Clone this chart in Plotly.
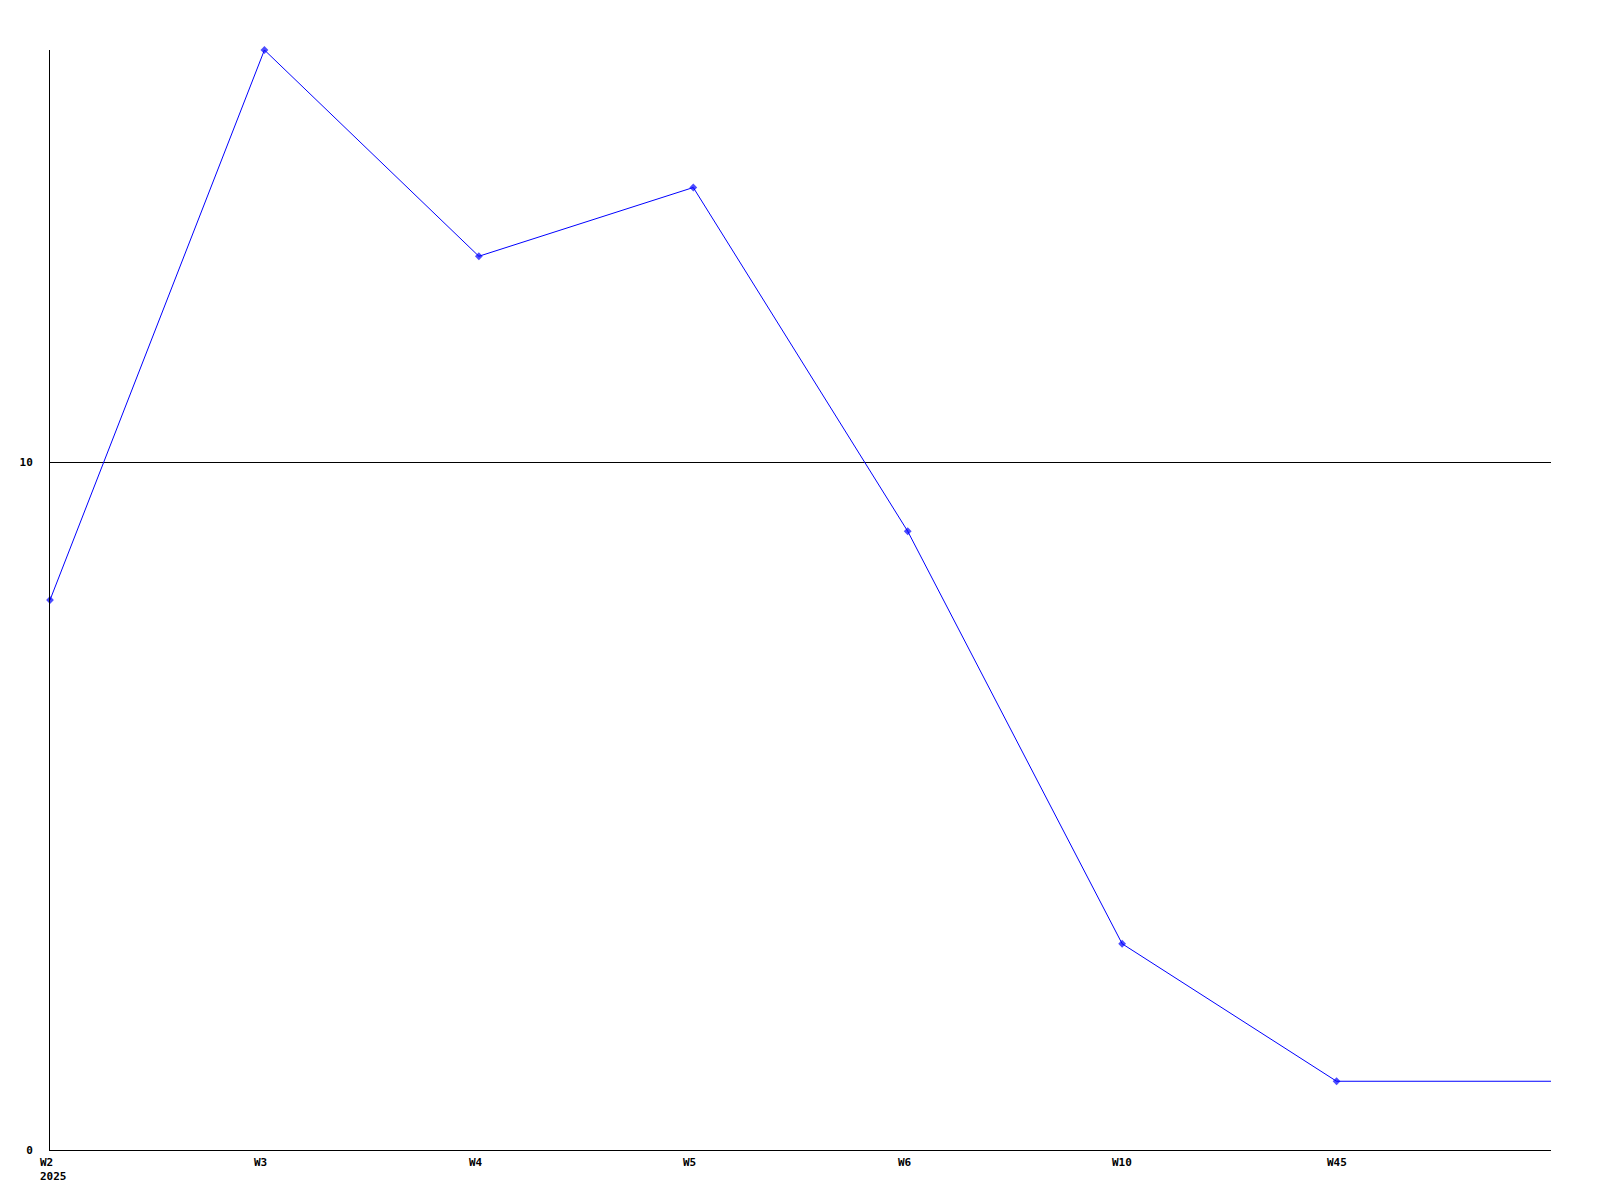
import plotly.graph_objects as go

# weekly counts
WEEKS  = ["W2", "W3", "W4", "W5", "W6", "W10", "W45"]
YEAR   = "2025"
COUNTS = [8, 16, 13, 14, 9, 3, 1]
TAIL   = 1          # last value carried on to the right edge
Y_TICKS = [0, 10]

LINE_COLOR = "#0000ff"
FONT = dict(family="DejaVu Sans Mono", size=11, color="#000000")

xs = list(range(len(WEEKS))) + [len(WEEKS)]
ys = COUNTS + [TAIL]

fig = go.Figure(go.Scatter(
    x=xs,
    y=ys,
    mode="lines+markers",
    line=dict(color=LINE_COLOR, width=1),
    marker=dict(
        symbol="diamond",
        size=[6] * len(WEEKS) + [0],
        color=LINE_COLOR,
        line=dict(width=0),
    ),
    cliponaxis=False,
    hoverinfo="skip",
    showlegend=False,
))

# tick labels on x are left-aligned just before the tick
for i, w in enumerate(WEEKS):
    text = f"<b>{w}</b>" if i else f"<b>{w}<br>{YEAR}</b>"
    fig.add_annotation(
        x=i, y=0, xref="x", yref="y",
        text=text, showarrow=False,
        xanchor="left", yanchor="top",
        xshift=-12, yshift=-4,
        align="left",
        font=FONT,
    )

# the page body adds an 8px offset, margins allow for it
fig.update_layout(
    width=1600,
    height=1200,
    plot_bgcolor="#ffffff",
    paper_bgcolor="#ffffff",
    margin=dict(l=42, r=57, t=42, b=58),
    xaxis=dict(
        range=[0, len(WEEKS)],
        showticklabels=False,
        showgrid=False,
        zeroline=False,
        showline=True,
        linecolor="#000000",
        linewidth=1,
        ticks="",
    ),
    yaxis=dict(
        range=[0, 16],
        tickvals=Y_TICKS,
        ticktext=[f"<b>{v}</b>" for v in Y_TICKS],
        tickfont=FONT,
        ticks="",
        ticklabelstandoff=14,
        showgrid=True,
        gridcolor="#000000",
        gridwidth=1,
        zeroline=False,
        showline=True,
        linecolor="#000000",
        linewidth=1,
    ),
)

fig.write_html("out.html")
